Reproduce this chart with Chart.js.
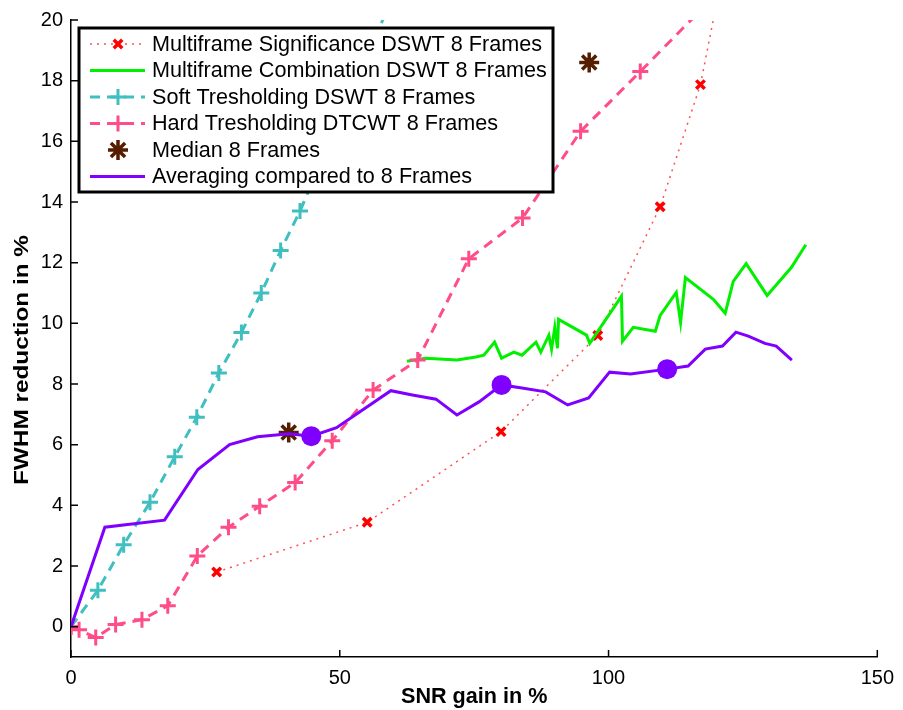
<!DOCTYPE html>
<html>
<head>
<meta charset="utf-8">
<script src="https://cdn.jsdelivr.net/npm/chart.js@4.4.0/dist/chart.umd.min.js"></script>
<style>
  html, body { margin:0; padding:0; background:#fff; }
</style>
</head>
<body>
<canvas id="c" width="903" height="710"></canvas>
<script>
// Valores (SNR gain en %, FWHM reduction en %)
const sigX  = [27.1, 55.1, 80.0, 98.0, 109.6, 117.1, 121.5];
const sigY  = [1.80, 3.44, 6.43, 9.60, 13.84, 17.87, 21.8];

const combX = [62.5, 66.0, 71.8, 75.3, 76.8, 78.8, 80.1, 82.4, 83.9, 86.5, 87.4, 88.9, 89.4, 90.0, 90.5, 90.7,
               95.9, 96.5, 102.4, 102.6, 104.6, 108.7, 109.6, 112.6, 113.4, 114.3, 119.5, 121.7, 123.2, 125.6, 129.5, 134.0, 136.7];
const combY = [8.75, 8.85, 8.79, 8.89, 8.95, 9.38, 8.85, 9.05, 8.95, 9.38, 9.05, 9.61, 9.15, 9.87, 9.18, 10.13,
               9.61, 9.34, 10.89, 9.41, 9.87, 9.74, 10.26, 11.02, 10.03, 11.51, 10.79, 10.33, 11.38, 11.97, 10.92, 11.84, 12.59];

const softX = [0, 5.0, 9.8, 14.7, 19.3, 23.4, 27.5, 31.7, 35.4, 39.0, 42.6, 46.0, 49.5, 53.0, 56.5, 60.0];
const softY = [0, 1.2, 2.7, 4.1, 5.6, 6.9, 8.36, 9.7, 11.0, 12.4, 13.7, 15.1, 16.5, 18.0, 19.4, 20.8];

const hardX = [0, 1.5, 4.6, 8.3, 13.2, 18.0, 23.5, 29.3, 35.1, 41.7, 48.6, 56.2, 64.5, 74.0, 84.0, 94.8, 105.9, 117.0];
const hardY = [0, -0.1, -0.36, 0.07, 0.23, 0.69, 2.33, 3.28, 3.97, 4.75, 6.13, 7.8, 8.79, 12.13, 13.47, 16.33, 18.3, 20.3];

const medX  = [40.5, 96.4];
const medY  = [6.4, 18.6];

const avgX  = [0, 6.3, 17.4, 23.6, 29.5, 34.7, 40.6, 44.7, 49.4, 59.5, 63.5, 67.9, 71.8, 75.9, 80.1, 83.9, 88.3,
               92.4, 96.3, 100.2, 104.1, 110.9, 114.8, 118.0, 121.2, 123.7, 126.0, 129.1, 131.2, 134.1];
const avgY  = [0, 3.28, 3.51, 5.18, 6.0, 6.26, 6.36, 6.28, 6.56, 7.78, 7.64, 7.5, 6.98, 7.41, 7.97, 7.87, 7.74,
               7.31, 7.54, 8.39, 8.33, 8.49, 8.59, 9.15, 9.25, 9.71, 9.58, 9.34, 9.25, 8.79];

const avgDotX = [44.7, 80.1, 110.9];
const avgDotY = [6.28, 7.97, 8.49];

const xTicks = [0, 50, 100, 150];
const yTicks = [0, 2, 4, 6, 8, 10, 12, 14, 16, 18, 20];

const pts = (xs, ys) => xs.map((x, i) => ({x, y: ys[i]}));

// colores
const RED = "#ff0000", RED_LINE = "rgb(255,80,80)", GREEN = "#00f000", CYAN = "#3fbfbf",
      PINK = "#ff4d88", BROWN = "#561e00", PURPLE = "#7f00ff";
const FONT = "'Liberation Sans', Arial, sans-serif";

const datasets = [
  {label:"Multiframe Significance DSWT 8 Frames", data:pts(sigX, sigY), order:6,
   borderColor:RED_LINE, borderWidth:1.5, borderDash:[2,5], pointStyle:"crossRot",
   pointRadius:6, pointBorderColor:RED, pointBorderWidth:3.5},
  {label:"Multiframe Combination DSWT 8 Frames", data:pts(combX, combY), order:5,
   borderColor:GREEN, borderWidth:3, pointRadius:0},
  {label:"Soft Tresholding DSWT 8 Frames", data:pts(softX, softY), order:4,
   borderColor:CYAN, borderWidth:3, borderDash:[10,7], pointStyle:"cross",
   pointRadius:8, pointBorderColor:CYAN, pointBorderWidth:3},
  {label:"Hard Tresholding DTCWT 8 Frames", data:pts(hardX, hardY), order:3,
   borderColor:PINK, borderWidth:3, borderDash:[10,7], pointStyle:"cross",
   pointRadius:8, pointBorderColor:PINK, pointBorderWidth:3},
  {label:"Median 8 Frames", data:pts(medX, medY), order:2, showLine:false,
   pointStyle:"star", pointRadius:10, pointBorderColor:BROWN, pointBorderWidth:3.5},
  {label:"Averaging compared to 8 Frames", data:pts(avgX, avgY), order:1,
   borderColor:PURPLE, borderWidth:3, pointRadius:0},
  {label:"", data:pts(avgDotX, avgDotY), order:0, showLine:false,
   pointStyle:"circle", pointRadius:10, pointBackgroundColor:PURPLE, pointBorderColor:PURPLE, pointBorderWidth:0}
];

// ticks hacia dentro + título Y (estilo Matlab, algo estirado)
const matlabAxes = {
  id:"matlabAxes",
  afterDraw(chart){
    const {ctx, chartArea:a, scales:{x, y}} = chart;
    ctx.save();
    ctx.strokeStyle = "#000";
    ctx.lineWidth = 1.5;
    ctx.beginPath();
    xTicks.forEach(v => { const px = x.getPixelForValue(v); ctx.moveTo(px, a.bottom); ctx.lineTo(px, a.bottom - 7); });
    yTicks.forEach(v => { const py = y.getPixelForValue(v); ctx.moveTo(a.left, py); ctx.lineTo(a.left + 7, py); });
    ctx.stroke();

    const t = "FWHM reduction in %";
    ctx.font = "bold 21px " + FONT;
    ctx.fillStyle = "#000";
    ctx.textAlign = "center";
    ctx.textBaseline = "middle";
    const w = ctx.measureText(t).width;
    ctx.translate(22.5, 360);
    ctx.rotate(-Math.PI / 2);
    ctx.scale(250 / w, 1);
    ctx.fillText(t, 0, 0);
    ctx.restore();
  }
};

// leyenda con caja blanca dentro del área
const boxLegend = {
  id:"boxLegend",
  afterDraw(chart){
    const ctx = chart.ctx;
    const L = 79, T = 28, R = 553, B = 192;
    ctx.save();
    ctx.fillStyle = "#fff";
    ctx.fillRect(L, T, R - L, B - T);
    ctx.strokeStyle = "#000";
    ctx.lineWidth = 3;
    ctx.strokeRect(L, T, R - L, B - T);
    ctx.font = "21.6px " + FONT;
    ctx.textBaseline = "middle";
    datasets.slice(0, 6).forEach((d, i) => {
      const yy = 44 + i * 26.5;
      if (d.showLine !== false){
        ctx.setLineDash(d.borderDash || []);
        ctx.strokeStyle = d.borderColor;
        ctx.lineWidth = d.borderWidth;
        ctx.beginPath(); ctx.moveTo(90, yy); ctx.lineTo(145, yy); ctx.stroke();
        ctx.setLineDash([]);
      }
      if (d.pointRadius){
        ctx.strokeStyle = d.pointBorderColor;
        ctx.lineWidth = d.pointBorderWidth;
        Chart.helpers.drawPoint(ctx, {pointStyle:d.pointStyle, radius:d.pointRadius, rotation:0, borderWidth:d.pointBorderWidth}, 118, yy);
      }
      ctx.fillStyle = "#000";
      ctx.fillText(d.label, 152, yy + 1);
    });
    ctx.restore();
  }
};

new Chart(document.getElementById("c"), {
  type:"line",
  data:{datasets},
  plugins:[matlabAxes, boxLegend],
  options:{
    responsive:false,
    devicePixelRatio:1,
    animation:false,
    layout:{padding:{top:18, right:23, left:0, bottom:0}},
    plugins:{legend:{display:false}, tooltip:{enabled:false}},
    elements:{line:{tension:0}},
    scales:{
      x:{
        type:"linear", min:0, max:150,
        afterFit: s => { s.height = 53; },
        afterBuildTicks: s => { s.ticks = xTicks.map(v => ({value:v})); },
        grid:{display:true, drawOnChartArea:false, drawTicks:false},
        border:{display:true, color:"#000", width:1.5},
        ticks:{color:"#000", padding:9, maxRotation:0, font:{family:FONT, size:20}},
        title:{display:true, text:"SNR gain in %", color:"#000", padding:{top:0, bottom:0},
               font:{family:FONT, size:21.6, weight:"bold", lineHeight:1.2}}
      },
      y:{
        type:"linear", min:-1, max:20,
        afterFit: s => { s.width = 71; },
        afterBuildTicks: s => { s.ticks = yTicks.map(v => ({value:v})); },
        grid:{display:true, drawOnChartArea:false, drawTicks:false},
        border:{display:true, color:"#000", width:1.5},
        ticks:{color:"#000", padding:8, font:{family:FONT, size:20}},
        title:{display:false}
      }
    }
  }
});
</script>
</body>
</html>
